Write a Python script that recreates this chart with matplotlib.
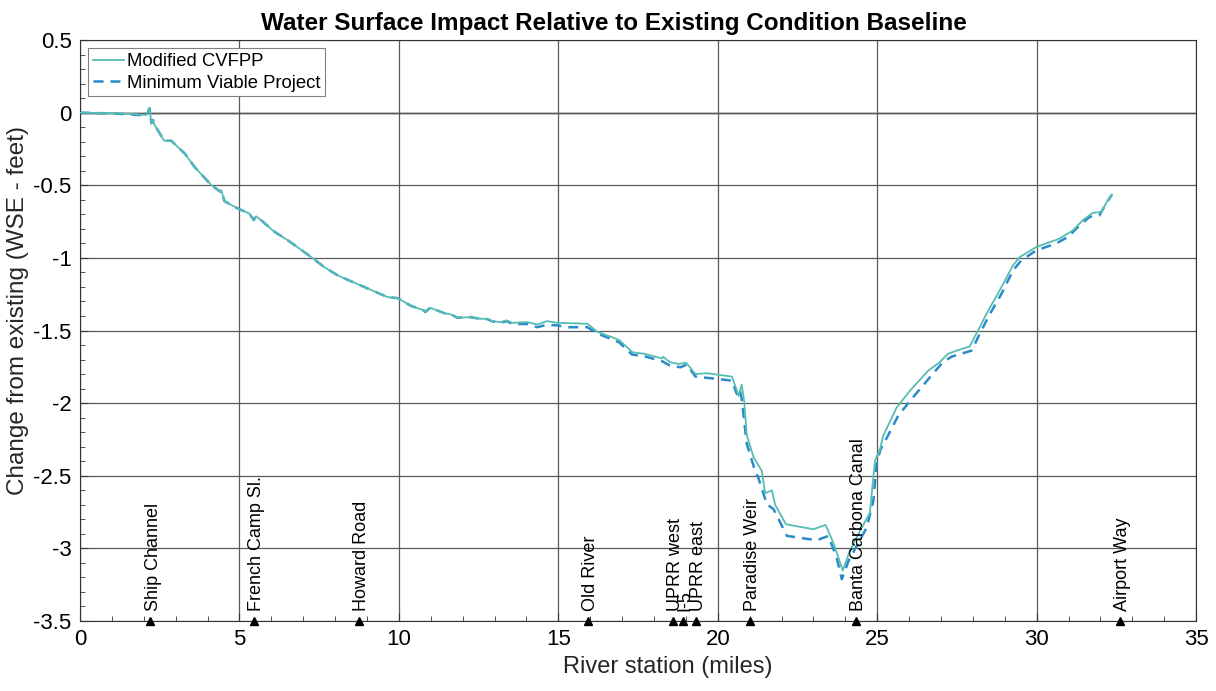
import numpy as np
import matplotlib
matplotlib.use("Agg")
import matplotlib.pyplot as plt
from matplotlib.ticker import MultipleLocator

plt.rcParams["font.family"] = ["Liberation Sans", "DejaVu Sans"]
plt.rcParams["axes.unicode_minus"] = False

# --- river station (miles) and change in WSE (feet) ---
cvfpp_x = [0, 1.0, 1.6, 2.08, 2.18, 2.24, 2.29, 2.34, 2.64, 2.86, 3.28, 3.59, 4.12, 4.41, 4.43,
           4.53, 4.95, 5.31, 5.45, 5.52, 5.68, 5.99, 6.10, 6.52, 7.25, 7.66, 8.08, 8.91, 9.65,
           9.96, 10.38, 10.79, 10.83, 10.98, 11.42, 11.63, 11.84, 12.25, 12.57, 12.78, 12.93,
           13.19, 13.38, 13.56, 14.03, 14.34, 14.65, 14.97, 15.28, 15.91, 16.22, 16.9, 17.33,
           17.7, 18.25, 18.28, 18.5, 18.77, 19.01, 19.3, 19.66, 20.44, 20.58, 20.65, 20.75,
           20.83, 20.91, 21.12, 21.38, 21.49, 21.7, 21.8, 22.14, 23.0, 23.38, 23.65, 23.92,
           24.14, 24.46, 24.77, 24.93, 25.09, 25.19, 25.61, 26.03, 26.6, 26.96, 27.22, 27.59,
           27.9, 28.16, 28.43, 28.84, 29.26, 29.47, 29.99, 30.72, 31.14, 31.45, 31.76, 32.03,
           32.23, 32.36]
cvfpp_y = [0, -0.003, -0.009, -0.016, 0.03, -0.073, -0.05, -0.085, -0.193, -0.193, -0.28, -0.373,
           -0.499, -0.545, -0.533, -0.609, -0.66, -0.694, -0.74, -0.713, -0.74, -0.80, -0.82,
           -0.879, -0.994, -1.063, -1.12, -1.20, -1.27, -1.277, -1.33, -1.362, -1.373, -1.343,
           -1.38, -1.389, -1.412, -1.408, -1.419, -1.419, -1.435, -1.442, -1.43, -1.447, -1.442,
           -1.458, -1.435, -1.447, -1.449, -1.453, -1.508, -1.564, -1.65, -1.66, -1.692, -1.68,
           -1.718, -1.73, -1.722, -1.80, -1.794, -1.817, -1.90, -1.95, -1.872, -1.99, -2.22,
           -2.37, -2.466, -2.62, -2.60, -2.70, -2.834, -2.868, -2.838, -2.975, -3.153, -3.018,
           -2.88, -2.755, -2.397, -2.316, -2.224, -2.03, -1.914, -1.776, -1.718, -1.66, -1.631,
           -1.61, -1.50, -1.384, -1.224, -1.051, -0.994, -0.925, -0.867, -0.81, -0.74, -0.69,
           -0.683, -0.603, -0.565]

mvp_x = [0, 1.0, 1.6, 2.08, 2.18, 2.24, 2.29, 2.34, 2.64, 2.86, 3.28, 3.59, 4.12, 4.41, 4.43,
         4.53, 4.95, 5.31, 5.45, 5.52, 5.68, 5.99, 6.10, 6.52, 7.25, 7.66, 8.08, 8.91, 9.65,
         9.96, 10.38, 10.79, 10.83, 10.98, 11.42, 11.63, 11.84, 12.25, 12.57, 12.78, 12.93,
         13.19, 13.38, 13.56, 14.03, 14.34, 14.65, 14.97, 15.28, 15.91, 16.22, 16.9, 17.31,
         17.73, 18.25, 18.5, 18.83, 19.03, 19.3, 19.97, 20.44, 20.6, 20.68, 20.75, 20.91, 21.17,
         21.27, 21.54, 21.75, 22.17, 23.1, 23.47, 23.73, 23.89, 24.1, 24.67, 24.88, 24.98, 25.1,
         25.3, 25.66, 26.08, 26.7, 27.06, 27.33, 27.96, 28.22, 28.48, 28.9, 29.26, 29.52, 29.99,
         30.61, 30.98, 31.35, 31.66, 31.97, 32.18, 32.36]
mvp_y = [0, -0.005, -0.012, -0.02, 0.03, -0.073, -0.05, -0.085, -0.193, -0.193, -0.28, -0.373,
         -0.499, -0.545, -0.533, -0.609, -0.66, -0.694, -0.74, -0.713, -0.74, -0.80, -0.82,
         -0.879, -0.994, -1.063, -1.12, -1.20, -1.27, -1.277, -1.33, -1.362, -1.373, -1.343,
         -1.38, -1.389, -1.412, -1.408, -1.42, -1.422, -1.437, -1.447, -1.435, -1.455, -1.455,
         -1.477, -1.46, -1.465, -1.477, -1.477, -1.52, -1.58, -1.665, -1.679, -1.711, -1.741,
         -1.753, -1.734, -1.817, -1.833, -1.845, -1.937, -1.90, -1.97, -2.28, -2.466, -2.512,
         -2.696, -2.73, -2.914, -2.944, -2.914, -3.064, -3.213, -3.087, -2.857, -2.673, -2.42,
         -2.32, -2.24, -2.086, -1.971, -1.81, -1.718, -1.68, -1.638, -1.522, -1.408, -1.246,
         -1.086, -1.017, -0.948, -0.901, -0.856, -0.775, -0.718, -0.706, -0.625, -0.565]

# --- landmarks along the river ---
landmark_names = ["Ship Channel", "French Camp Sl.", "Howard Road", "Old River", "UPRR west",
                  "I-5", "UPRR east", "Paradise Weir", "Banta Carbona Canal", "Airport Way"]
landmark_x = [2.21, 5.46, 8.75, 15.93, 18.6, 18.9, 19.33, 21.02, 24.34, 32.6]

fig = plt.figure(figsize=(12.16, 6.91), dpi=100)
ax = fig.add_axes([0.0658, 0.1013, 0.9178, 0.8407])

ax.grid(True, which="major", color="#5a5a5a", lw=0.9)
ax.axhline(0, color="black", lw=1.0, zorder=1.5)

ax.plot(cvfpp_x, cvfpp_y, color="#56bdb3", lw=1.3, label="Modified CVFPP", zorder=3)
ax.plot(mvp_x, mvp_y, color="#2a8bc9", lw=1.8, ls=(0, (4.0, 2.8)),
        label="Minimum Viable Project", zorder=2.5)

ax.set_xlim(0, 35)
ax.set_ylim(-3.5, 0.5)
ax.xaxis.set_major_locator(MultipleLocator(5))
ax.xaxis.set_minor_locator(MultipleLocator(1))
ax.yaxis.set_minor_locator(MultipleLocator(0.1))
ax.set_yticks(np.arange(-3.5, 0.51, 0.5))
ax.set_yticklabels(["-3.5", "-3", "-2.5", "-2", "-1.5", "-1", "-0.5", "0", "0.5"])
ax.tick_params(which="both", direction="in", labelsize=16, color="#333333")
ax.tick_params(which="major", length=6, pad=6)
ax.tick_params(which="minor", length=3.5)
for s in ax.spines.values():
    s.set_color("#333333")

for name, xv in zip(landmark_names, landmark_x):
    ax.plot(xv, -3.5, marker="^", color="black", ms=6, clip_on=False, zorder=4)
    ax.text(xv + 0.08, -3.43, name, rotation=90, ha="center", va="bottom", fontsize=13)

ax.set_xlabel("River station (miles)", fontsize=17, color="#262626")
ax.xaxis.set_label_coords(0.527, -0.06)
ax.set_ylabel("Change from existing (WSE - feet)", fontsize=17.5, color="#262626")
ax.yaxis.set_label_coords(-0.046, 0.535)
ax.set_title("Water Surface Impact Relative to Existing Condition Baseline",
             fontsize=17.5, fontweight="bold", x=0.478, pad=7)

leg = ax.legend(loc="upper left", fontsize=13.3, fancybox=False, framealpha=1,
                edgecolor="#808080", handlelength=1.7, handletextpad=0.15,
                borderpad=0.25, labelspacing=0.25, borderaxespad=0.45)
leg.get_frame().set_linewidth(0.8)

fig.savefig("out.png", dpi=100)
